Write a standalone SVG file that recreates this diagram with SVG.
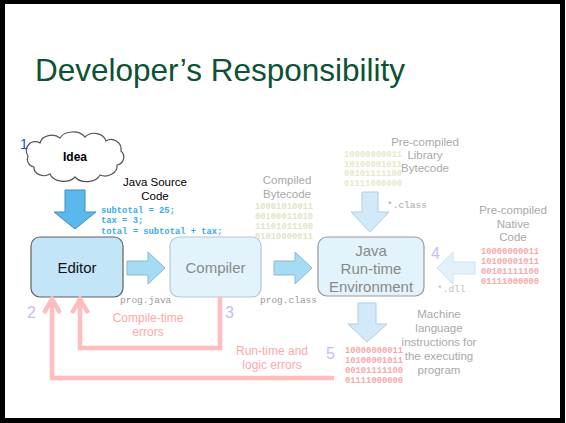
<svg xmlns="http://www.w3.org/2000/svg" width="566" height="423" viewBox="0 0 566 423">
<style>
.sans{font-family:"Liberation Sans",Arial,sans-serif}
.mono{font-family:"Liberation Mono","Courier New",monospace}
.gray{fill:#a9a9a9}
.num{font-size:16px;fill:#c0c0f8}
.err{fill:#ffa9a9;font-size:12px}
.bits{font-size:8.8px;font-weight:bold}
.box{stroke-width:1.2}
.ebar{fill:none;stroke:#ffbdbd;stroke-width:4.5;stroke-linejoin:miter}
</style>
<rect x="0" y="0" width="566" height="423" fill="#fff"/>
<rect x="2.5" y="1.5" width="560" height="419" fill="none" stroke="#000" stroke-width="5"/>
<text x="35" y="81" class="sans" font-size="31.5" fill="#0c5233">Developer’s Responsibility</text>

<g id="idea">
<path d="M34,167 A8,8 0 0 1 28,156 A9,9 0 0 1 40,143 A12,10 0 0 1 60,138 A14,10 0 0 1 85,137 A12,10 0 0 1 106,141 A10,10 0 0 1 121,151 A8,8 0 0 1 117,165 A12,10 0 0 1 100,175 A14,10 0 0 1 75,177 A14,10 0 0 1 50,174 A10,8 0 0 1 34,167 Z" fill="#fff" stroke="#555" stroke-width="1.2"/>
<text x="75" y="161" class="sans" font-size="12" font-weight="bold" text-anchor="middle" fill="#000">Idea</text>
<text x="20" y="149" class="sans" font-size="14" fill="#2747e0">1</text>
</g>

<g id="java-source">
<text x="155" y="186" class="sans" font-size="11.5" text-anchor="middle" fill="#000">Java Source</text>
<text x="155" y="200" class="sans" font-size="11.5" text-anchor="middle" fill="#000">Code</text>
<text x="101" y="213" class="mono bits" fill="#39aaea">subtotal = 25;</text>
<text x="101" y="223" class="mono bits" fill="#39aaea">tax = 3;</text>
<text x="101" y="233.5" class="mono bits" fill="#39aaea">total = subtotal + tax;</text>
</g>

<g id="editor">
<rect x="31" y="237" width="92" height="60" rx="9" fill="#c3e5f8" stroke="#606060" class="box"/>
<text x="77" y="273" class="sans" font-size="15" text-anchor="middle" fill="#111">Editor</text>
<text x="120" y="303" class="mono" font-size="9.5" fill="#999">prog.java</text>
</g>

<g id="compiler">
<rect x="170" y="237" width="91" height="60" rx="9" fill="#e3f3fc" stroke="#b5c7d6" class="box"/>
<text x="215.5" y="273" class="sans" font-size="15" text-anchor="middle" fill="#8a8a8a">Compiler</text>
<text x="260" y="303" class="mono" font-size="9.5" fill="#999">prog.class</text>
</g>

<g id="bytecode">
<text x="287" y="184" class="sans gray" font-size="11.5" text-anchor="middle">Compiled</text>
<text x="287" y="198" class="sans gray" font-size="11.5" text-anchor="middle">Bytecode</text>
<text x="255" y="209" class="mono bits" fill="#e2e4c6">10001010011</text>
<text x="255" y="219" class="mono bits" fill="#e2e4c6">00100011010</text>
<text x="255" y="229" class="mono bits" fill="#e2e4c6">11101011100</text>
<text x="255" y="239" class="mono bits" fill="#e2e4c6">01010000011</text>
</g>

<g id="jre">
<rect x="318" y="237" width="106" height="59" rx="9" fill="#e3f3fc" stroke="#999" class="box"/>
<text x="371" y="256" class="sans" font-size="15" text-anchor="middle" fill="#888">Java</text>
<text x="371" y="274" class="sans" font-size="15" text-anchor="middle" fill="#888">Run-time</text>
<text x="371" y="292" class="sans" font-size="15" text-anchor="middle" fill="#888">Environment</text>
</g>

<g id="library">
<text x="425" y="146" class="sans gray" font-size="11.5" text-anchor="middle">Pre-compiled</text>
<text x="425" y="159" class="sans gray" font-size="11.5" text-anchor="middle">Library</text>
<text x="425" y="172" class="sans gray" font-size="11.5" text-anchor="middle">Bytecode</text>
<text x="344" y="157" class="mono bits" fill="#e8e8cc">10000000011</text>
<text x="344" y="166.5" class="mono bits" fill="#e8e8cc">10100001011</text>
<text x="344" y="176" class="mono bits" fill="#e8e8cc">00101111100</text>
<text x="344" y="185.5" class="mono bits" fill="#e8e8cc">01111000000</text>
<text x="387" y="208" class="mono" font-size="9.5" fill="#a8a8a8">*.class</text>
</g>

<g id="native">
<text x="513" y="214" class="sans gray" font-size="11.5" text-anchor="middle">Pre-compiled</text>
<text x="513" y="228" class="sans gray" font-size="11.5" text-anchor="middle">Native</text>
<text x="513" y="241" class="sans gray" font-size="11.5" text-anchor="middle">Code</text>
<text x="481" y="254" class="mono bits" fill="#f8a9a9">10000000011</text>
<text x="481" y="264" class="mono bits" fill="#f8a9a9">10100001011</text>
<text x="481" y="274" class="mono bits" fill="#f8a9a9">00101111100</text>
<text x="481" y="284" class="mono bits" fill="#f8a9a9">01111000000</text>
<text x="437" y="292" class="mono" font-size="9.5" fill="#c0c0c0">*.dll</text>
<text x="431" y="259" class="sans num" fill="#d0d0ff">4</text>
</g>

<g id="machine">
<text x="439" y="318" class="sans gray" font-size="11.5" text-anchor="middle">Machine</text>
<text x="439" y="332" class="sans gray" font-size="11.5" text-anchor="middle">language</text>
<text x="439" y="346" class="sans gray" font-size="11.5" text-anchor="middle">instructions for</text>
<text x="439" y="360" class="sans gray" font-size="11.5" text-anchor="middle">the executing</text>
<text x="439" y="374" class="sans gray" font-size="11.5" text-anchor="middle">program</text>
<text x="345" y="353" class="mono bits" fill="#f8a9a9">10000000011</text>
<text x="345" y="363" class="mono bits" fill="#f8a9a9">10100001011</text>
<text x="345" y="373" class="mono bits" fill="#f8a9a9">00101111100</text>
<text x="345" y="383" class="mono bits" fill="#f8a9a9">01111000000</text>
<text x="326" y="359" class="sans num">5</text>
</g>

<g id="labels">
<text x="27" y="318" class="sans num">2</text>
<text x="225" y="318" class="sans num">3</text>
<text x="148" y="322" class="sans err" text-anchor="middle">Compile-time</text>
<text x="148" y="336" class="sans err" text-anchor="middle">errors</text>
<text x="272" y="355" class="sans err" text-anchor="middle">Run-time and</text>
<text x="272" y="369" class="sans err" text-anchor="middle">logic errors</text>
</g>

<g id="connectors">
<polygon points="65,190 85,190 85,212 96,212 75,229 54,212 65,212" fill="#5ab8ec" stroke="#3d8fc4" stroke-width="1"/>
<polygon points="127,261 148,261 148,252 165,268 148,284 148,275 127,275" fill="#a6dbf4" stroke="#89b9d6" stroke-width="1"/>
<polygon points="274,261 295,261 295,252 312,268 295,284 295,275 274,275" fill="#a6dbf4" stroke="#89b9d6" stroke-width="1"/>
<polygon points="362,192 378,192 378,212 389,212 370,232 351,212 362,212" fill="#d2e9f9" stroke="#aecde6" stroke-width="1"/>
<polygon points="475,262 453,262 453,252 437,268 453,284 453,274 475,274" fill="#e3f1fb" stroke="#cfe2f2" stroke-width="1"/>
<polygon points="358,303 376,303 376,324 387,324 367,342 348,324 358,324" fill="#d2e9f9" stroke="#aecde6" stroke-width="1"/>
<polyline class="ebar" points="220,297 220,348 80,348 80,300"/>
<polyline class="ebar" points="72,313 80,299 88,313"/>
<polyline class="ebar" points="334,378 52,378 52,300"/>
<polyline class="ebar" points="44,313 52,299 60,313"/>
</g>
</svg>
